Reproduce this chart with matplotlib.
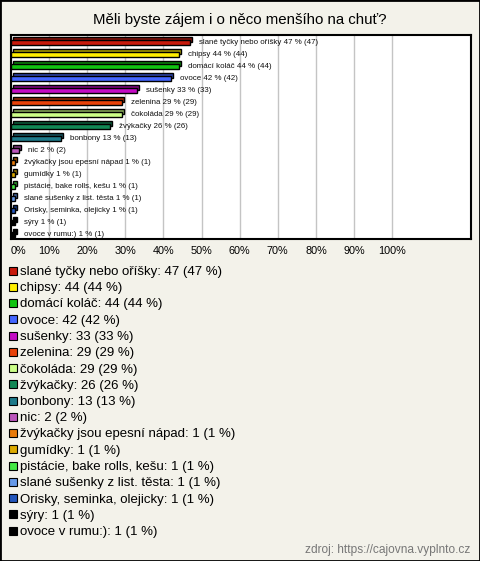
import matplotlib
matplotlib.use("Agg")
import matplotlib.pyplot as plt
import matplotlib.colors as mcolors
from matplotlib.patches import Rectangle
from matplotlib.transforms import ScaledTranslation

plt.rcParams['font.family'] = ['Liberation Sans', 'DejaVu Sans']

title = "Měli byste zájem i o něco menšího na chuť?"
names = ["slané tyčky nebo oříšky", "chipsy", "domácí koláč", "ovoce", "sušenky",
         "zelenina", "čokoláda", "žvýkačky", "bonbony", "nic",
         "žvýkačky jsou epesní nápad", "gumídky", "pistácie, bake rolls, kešu",
         "slané sušenky z list. těsta", "Orisky, seminka, olejicky", "sýry",
         "ovoce v rumu:)"]
counts = [47, 44, 44, 42, 33, 29, 29, 26, 13, 2, 1, 1, 1, 1, 1, 1, 1]
percents = [47, 44, 44, 42, 33, 29, 29, 26, 13, 2, 1, 1, 1, 1, 1, 1, 1]
colors = ["#c81a0c", "#ffee00", "#11c411", "#4466ff", "#c40cc4",
          "#e8420a", "#ccff88", "#118855", "#1e7a8a", "#bb55bb",
          "#e87a0a", "#dcaa00", "#44e844", "#6699e8", "#2255bb",
          "#000000", "#000000"]
xticks = [0, 10, 20, 30, 40, 50, 60, 70, 80, 90, 100]
source = "zdroj: https://cajovna.vyplnto.cz"

bg = "#f3f2ea"
W, H = 480, 561
fig = plt.figure(figsize=(W / 100, H / 100), dpi=100, facecolor=bg)

ax = fig.add_axes([11 / W, 1 - 239 / H, 460 / W, 204 / H])
ax.set_facecolor("white")
ax.set_xlim(0, 120.7)
ax.set_ylim(16.375, -0.6)

ypos = list(range(len(names)))

def darker(c, f=0.65):
    r, g, b = mcolors.to_rgb(c)
    return (r * f, g * f, b * f)

shadow = ax.transData + ScaledTranslation(2 / 100, 3 / 100, fig.dpi_scale_trans)
ax.barh(ypos, percents, height=0.4, color=[darker(c) for c in colors],
        edgecolor="black", linewidth=1, transform=shadow, zorder=2)
ax.barh(ypos, percents, height=0.4, color=colors, edgecolor="black",
        linewidth=1, zorder=3)

label_off = ScaledTranslation(9 / 100, 0, fig.dpi_scale_trans)
for y, n, p, c in zip(ypos, names, percents, counts):
    ax.text(p, y, f"{n} {p} % ({c})", transform=ax.transData + label_off,
            fontsize=5.7, va="center", ha="left", color="#111111", zorder=4)

ax.set_xticks(xticks)
ax.set_xticklabels([f"{t}%" for t in xticks], fontsize=7.8)
ax.get_xticklabels()[0].set_horizontalalignment("left")
ax.tick_params(axis="x", length=0, pad=5)
ax.set_yticks([])
ax.grid(axis="x", color="#c4c4c4", linewidth=1, zorder=0)
ax.set_axisbelow(True)
for s in ax.spines.values():
    s.set_linewidth(1.5)
    s.set_color("black")

fig.text(240 / W, 1 - 20 / H, title, fontsize=10.85, ha="center", va="center")

# legend
for i, (n, p, c, col) in enumerate(zip(names, percents, counts, colors)):
    yc = 270.5 + i * 16.25
    fig.patches.append(Rectangle((9 / W, 1 - (yc + 4) / H), 8 / W, 8 / H,
                                 transform=fig.transFigure, facecolor=col,
                                 edgecolor="black", linewidth=0.8))
    fig.text(20 / W, 1 - (yc + 4.5) / H, f"{n}: {c} ({p} %)", fontsize=9.5,
             ha="left", va="baseline", color="#000000")

fig.text(470 / W, 1 - 550 / H, source, fontsize=8.6, ha="right", va="center",
         color="#777777")

fig.patches.append(Rectangle((0, 0), 1, 1, transform=fig.transFigure,
                             fill=False, edgecolor="black", linewidth=2))

fig.savefig("out.png", dpi=100, facecolor=bg)
